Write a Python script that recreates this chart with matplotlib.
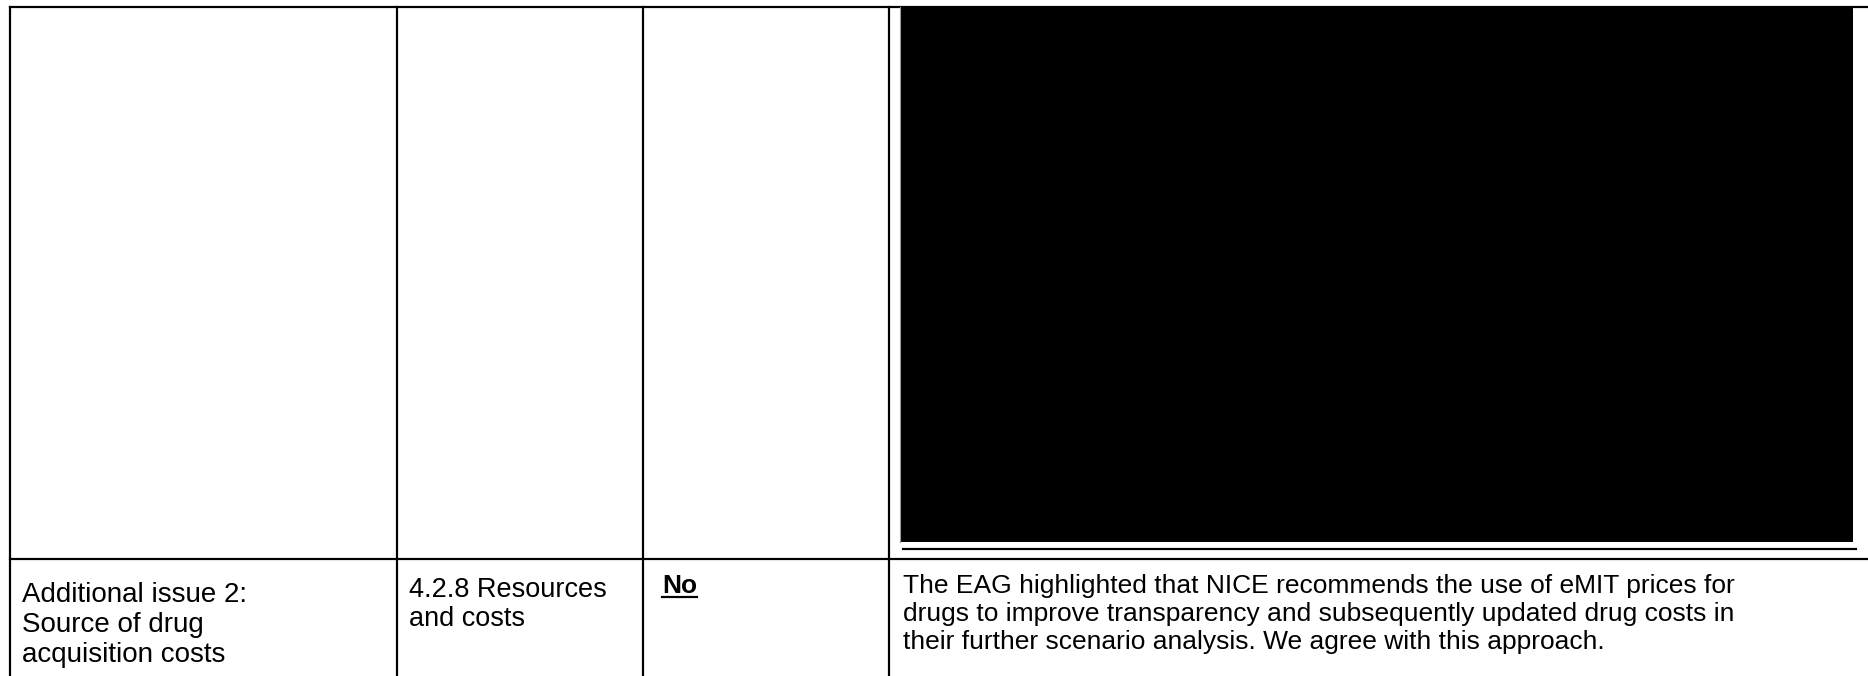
import matplotlib
matplotlib.use("Agg")
import matplotlib.pyplot as plt
from matplotlib.patches import Rectangle

# table content (last visible row of the table)
col1_lines = ["Additional issue 2:", "Source of drug", "acquisition costs"]
col2_lines = ["4.2.8 Resources", "and costs"]
col3_text = "No"
col4_lines = [
    "The EAG highlighted that NICE recommends the use of eMIT prices for",
    "drugs to improve transparency and subsequently updated drug costs in",
    "their further scenario analysis. We agree with this approach.",
]

# page geometry, in pixels
W, H = 1868, 676
col_edges = [10, 397, 643, 889]
top_y = 7
row_y = 559
redact = (901, 7, 1853, 542)   # x0, y0, x1, y1 of the blacked-out cell

FONT = ["Liberation Sans", "DejaVu Sans"]
LW = 2.2 * 0.72

fig = plt.figure(figsize=(W / 100, H / 100), dpi=100)
ax = fig.add_axes([0, 0, 1, 1])
ax.set_xlim(0, W)
ax.set_ylim(H, 0)
ax.axis("off")

# grid lines
ax.plot([col_edges[0], W], [top_y, top_y], color="k", lw=LW, solid_capstyle="projecting")
ax.plot([col_edges[0], W], [row_y, row_y], color="k", lw=LW, solid_capstyle="projecting")
for x in col_edges:
    ax.plot([x, x], [top_y, H], color="k", lw=LW, solid_capstyle="projecting")

# redacted block
x0, y0, x1, y1 = redact
ax.add_patch(Rectangle((x0, y0), x1 - x0, y1 - y0, facecolor="k", edgecolor="none"))
ax.plot([x0 - 1, x0 - 1], [y0, y1], color="#999999", lw=0.8)
ax.plot([x0 + 2, x1 + 3], [y1 + 7, y1 + 7], color="k", lw=LW)

# text
for i, s in enumerate(col1_lines):
    ax.text(22, 602 + 30 * i, s, fontsize=20, family=FONT, va="baseline", ha="left")
for i, s in enumerate(col2_lines):
    ax.text(409, 597 + 29 * i, s, fontsize=19.5, family=FONT, va="baseline", ha="left")
for i, s in enumerate(col4_lines):
    ax.text(903, 593 + 28 * i, s, fontsize=19, family=FONT, va="baseline", ha="left")

no_txt = ax.text(662, 593, col3_text, fontsize=19, family=FONT, weight="bold",
                 va="baseline", ha="left")
fig.canvas.draw()
bb = no_txt.get_window_extent().transformed(ax.transData.inverted())
ax.plot([bb.x0, bb.x1], [597, 597], color="k", lw=LW)

fig.savefig("out.png", dpi=100)
